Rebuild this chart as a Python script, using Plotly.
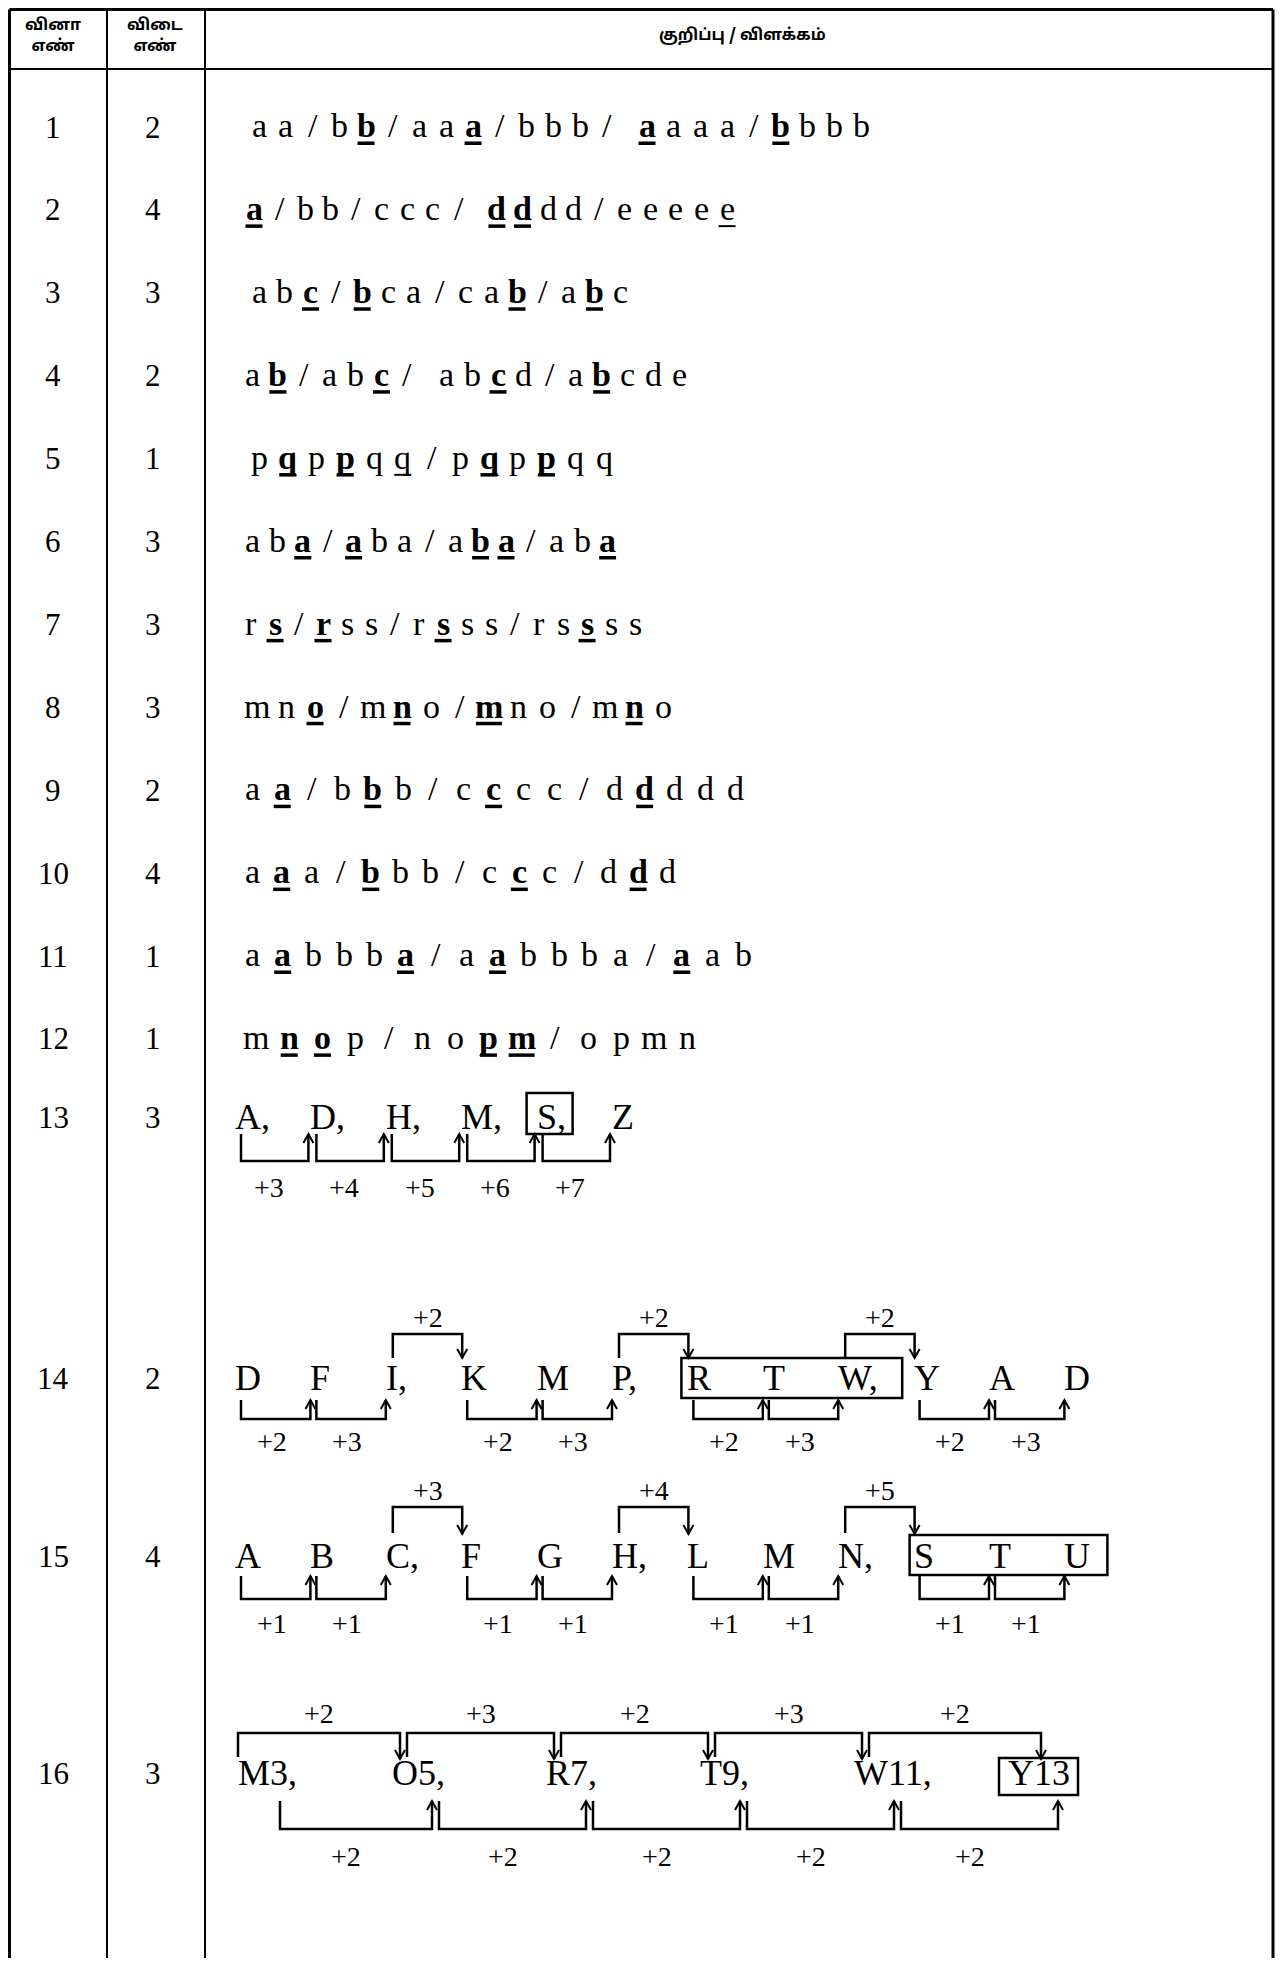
import plotly.graph_objects as go

# ---------------- data ----------------
QUESTION_NUMBERS = ["1", "2", "3", "4", "5", "6", "7", "8", "9", "10", "11", "12", "13", "14", "15", "16"]
ANSWER_NUMBERS = ["2", "4", "3", "2", "1", "3", "3", "3", "2", "4", "1", "1", "3", "2", "4", "3"]
HEADER_LABELS = ["வினா<br>எண்", "விடை<br>எண்", "குறிப்பு / விளக்கம்"]

# "*x" = bold + underlined, "~x" = underlined only, "_" = extra gap
PATTERN_ROWS = [
    "a a / b *b / a a *a / b b b / _ *a a a a / *b b b b",
    "*a / b b / c c c / _ *d *d d d / e e e e ~e",
    "a b *c / *b c a / c a *b / a *b c",
    "a *b / a b *c / _ a b *c d / a *b c d e",
    "p *q p *p q ~q / p *q p *p q q",
    "a b *a / *a b a / a *b *a / a b *a",
    "r *s / *r s s / r *s s s / r s *s s s",
    "m n *o / m *n o / *m n o / m *n o",
    "a *a / b *b b / c *c c c / d *d d d d",
    "a *a a / *b b b / c *c c / d *d d",
    "a *a b b b *a / a *a b b b a / *a a b",
    "m *n *o p / n o *p *m / o p m n",
]

SERIES_13 = ["A,", "D,", "H,", "M,", "S,", "Z"]
BOX_13 = [4, 4]
BOTTOM_13 = [[0, "+3"], [1, "+4"], [2, "+5"], [3, "+6"], [4, "+7"]]

SERIES_14 = ["D", "F", "I,", "K", "M", "P,", "R", "T", "W,", "Y", "A", "D"]
BOX_14 = [6, 8]
TOP_14 = [[2, "+2"], [5, "+2"], [8, "+2"]]
BOTTOM_14 = [[0, "+2"], [1, "+3"], [3, "+2"], [4, "+3"], [6, "+2"], [7, "+3"], [9, "+2"], [10, "+3"]]

SERIES_15 = ["A", "B", "C,", "F", "G", "H,", "L", "M", "N,", "S", "T", "U"]
BOX_15 = [9, 11]
TOP_15 = [[2, "+3"], [5, "+4"], [8, "+5"]]
BOTTOM_15 = [[0, "+1"], [1, "+1"], [3, "+1"], [4, "+1"], [6, "+1"], [7, "+1"], [9, "+1"], [10, "+1"]]

SERIES_16 = ["M3,", "O5,", "R7,", "T9,", "W11,", "Y13"]
BOX_16 = [5, 5]
TOP_16 = [[0, "+2"], [1, "+3"], [2, "+2"], [3, "+3"], [4, "+2"]]
BOTTOM_16 = [[0, "+2"], [1, "+2"], [2, "+2"], [3, "+2"], [4, "+2"]]

# ---------------- layout constants (page pixels) ----------------
PAGE_W, PAGE_H = 1283, 1970
BODY = 8                      # default body margin of the html page
FIG_W, FIG_H = PAGE_W - 2 * BODY, PAGE_H - 2 * BODY - 4
SERIF = "Liberation Serif, Times New Roman, serif"
TAMIL = "Noto Sans Tamil, Lohit Tamil, Latha, Noto Sans, sans-serif"
COL_LINES = [9.5, 107, 205, 1273]
TOP_Y = 9.5
HEADER_BOTTOM = 69
ROW1_C = 127.0
ROW_PITCH = 82.9
ROW_X0 = [259, 254, 259, 252, 259, 252, 251, 257, 252, 252, 252, 256]
ROW_STEP = [26.76, 25.57, 25.8, 25.9, 28.75, 25.4, 24.0, 29.0, 30.2, 29.7, 30.7, 33.2]
QNUM_X = 53
ANS_X = 153
FS_TXT = 34
FS_CAP = 36
FS_NUM = 31
FS_LBL = 28

annotations = []
shapes = []


def add_text(x, y_mid, s, size, anchor="center", bold=False, family=SERIF):
    annotations.append(dict(
        x=x, y=y_mid, xref="x", yref="y", showarrow=False,
        text=("<b>%s</b>" % s) if bold else s,
        xanchor=anchor, yanchor="middle",
        font=dict(family=family, size=size, color="black"),
    ))


def add_line(x0, y0, x1, y1, w):
    shapes.append(dict(type="line", xref="x", yref="y", x0=x0, y0=y0, x1=x1, y1=y1,
                       line=dict(color="black", width=w)))


def add_path(p, w=2.5):
    shapes.append(dict(type="path", xref="x", yref="y", path=p,
                       line=dict(color="black", width=w)))


def up_bracket(l, r, ytip, yh):
    add_path("M%.1f,%.1f L%.1f,%.1f L%.1f,%.1f L%.1f,%.1f" % (l, ytip, l, yh, r, yh, r, ytip))
    add_path("M%.1f,%.1f L%.1f,%.1f L%.1f,%.1f" % (r - 5, ytip + 9, r, ytip, r + 5, ytip + 9), 2)


def down_bracket(l, r, ystart, yh, ytip):
    add_path("M%.1f,%.1f L%.1f,%.1f L%.1f,%.1f L%.1f,%.1f" % (l, ystart, l, yh, r, yh, r, ytip))
    add_path("M%.1f,%.1f L%.1f,%.1f L%.1f,%.1f" % (r - 5, ytip - 9, r, ytip, r + 5, ytip - 9), 2)


def box(x0, y0, x1, y1):
    shapes.append(dict(type="rect", xref="x", yref="y", x0=x0, y0=y0, x1=x1, y1=y1,
                       line=dict(color="black", width=2.5), fillcolor="rgba(0,0,0,0)"))


def parse(row):
    out, pos = [], 0.0
    for t in row.split(" "):
        if t == "_":
            pos += 0.5
            continue
        style = "plain"
        if t.startswith("*"):
            style, t = "bold", t[1:]
        elif t.startswith("~"):
            style, t = "under", t[1:]
        out.append((pos, t, style))
        pos += 1
    return out


# ---------------- table frame ----------------
for i, x in enumerate(COL_LINES):
    add_line(x, TOP_Y, x, PAGE_H, 3 if i in (0, 3) else 2)
add_line(COL_LINES[0], TOP_Y, COL_LINES[3], TOP_Y, 3)
add_line(COL_LINES[0], HEADER_BOTTOM, COL_LINES[3], HEADER_BOTTOM, 2)

add_text(QNUM_X, 36, "<b>%s</b>" % HEADER_LABELS[0], 16, family=TAMIL)
add_text(ANS_X + 2, 36, "<b>%s</b>" % HEADER_LABELS[1], 16, family=TAMIL)
add_text(742, 36, "<b>%s</b>" % HEADER_LABELS[2], 16, family=TAMIL)

# ---------------- rows 1-12 ----------------
for r, row in enumerate(PATTERN_ROWS):
    c = ROW1_C + r * ROW_PITCH
    base = c + 0.33 * FS_NUM
    mid = base - 0.3375 * FS_TXT
    add_text(QNUM_X, c, QUESTION_NUMBERS[r], FS_NUM)
    add_text(ANS_X, c, ANSWER_NUMBERS[r], FS_NUM)
    for pos, ch, style in parse(row):
        x = ROW_X0[r] + pos * ROW_STEP[r]
        add_text(x, mid, ch, FS_TXT, bold=(style == "bold"))
        if style != "plain":
            hw = 13 if ch == "m" else 8.5
            add_line(x - hw, base + 6, x + hw, base + 6, 3.5 if style == "bold" else 2)

# ---------------- rows 13-15 (letter series) ----------------
SER_X0 = 233
SER_STEP = 75.4


def series_row(series, ymid, qi):
    add_text(QNUM_X, ymid, QUESTION_NUMBERS[qi], FS_NUM)
    add_text(ANS_X, ymid, ANSWER_NUMBERS[qi], FS_NUM)
    lefts = []
    for i, tok in enumerate(series):
        L = SER_X0 + i * SER_STEP
        lefts.append(L)
        add_text(L, ymid, tok, FS_CAP, anchor="left")
    return lefts


# row 13
Y13 = 1117
L13 = series_row(SERIES_13, Y13, 12)
for i, lbl in BOTTOM_13:
    l, r = L13[i] + 8, L13[i + 1] + 0
    up_bracket(l, r, Y13 + 17, Y13 + 44)
    add_text((l + r) / 2 - 6, Y13 + 70, lbl, FS_LBL)
box(L13[BOX_13[0]] - 8, Y13 - 24, L13[BOX_13[1]] + 38, Y13 + 17)

# row 14
Y14 = 1378
L14 = series_row(SERIES_14, Y14, 13)
for i, lbl in TOP_14:
    l, r = L14[i] + 9, L14[i + 1] + 3
    down_bracket(l, r, Y14 - 20, Y14 - 44, Y14 - 20)
    add_text((l + r) / 2, Y14 - 61, lbl, FS_LBL)
for i, lbl in BOTTOM_14:
    l, r = L14[i] + 8, L14[i + 1] + 2
    up_bracket(l, r, Y14 + 22, Y14 + 41)
    add_text((l + r) / 2 - 4, Y14 + 63, lbl, FS_LBL)
box(L14[BOX_14[0]] - 4, Y14 - 20, L14[BOX_14[1]] + 66, Y14 + 20)

# row 15
Y15 = 1556
L15 = series_row(SERIES_15, Y15, 14)
for i, lbl in TOP_15:
    l, r = L15[i] + 9, L15[i + 1] + 3
    down_bracket(l, r, Y15 - 23, Y15 - 49, Y15 - 22)
    add_text((l + r) / 2, Y15 - 66, lbl, FS_LBL)
for i, lbl in BOTTOM_15:
    l, r = L15[i] + 8, L15[i + 1] + 2
    up_bracket(l, r, Y15 + 20, Y15 + 43)
    add_text((l + r) / 2 - 4, Y15 + 67, lbl, FS_LBL)
box(L15[BOX_15[0]] - 2, Y15 - 21, L15[BOX_15[1]] + 45, Y15 + 19)

# row 16
Y16 = 1773
S16_X0 = 236
S16_STEP = 154
add_text(QNUM_X, Y16, QUESTION_NUMBERS[15], FS_NUM)
add_text(ANS_X, Y16, ANSWER_NUMBERS[15], FS_NUM)
L16 = []
for i, tok in enumerate(SERIES_16):
    L = S16_X0 + i * S16_STEP
    L16.append(L)
    add_text(L, Y16, tok, FS_CAP, anchor="left")
prev = None
for i, lbl in TOP_16:
    l = L16[i] + 2 if prev is None else prev + 7
    r = L16[i + 1] + (10 if i + 1 < len(SERIES_16) - 1 else 35)
    down_bracket(l, r, Y16 - 16, Y16 - 40, Y16 - 14)
    add_text((l + r) / 2, Y16 - 60, lbl, FS_LBL)
    prev = r
prev = None
for i, lbl in BOTTOM_16:
    l = L16[i] + 44 if prev is None else prev + 7
    r = L16[i + 1] + (42 if i + 1 < len(SERIES_16) - 1 else 52)
    up_bracket(l, r, Y16 + 28, Y16 + 56)
    add_text((l + r) / 2 - 10, Y16 + 83, lbl, FS_LBL)
    prev = r
box(L16[BOX_16[0]] - 7, Y16 - 15, L16[BOX_16[1]] + 72, Y16 + 22)

fig = go.Figure()
fig.update_layout(
    width=FIG_W, height=FIG_H,
    margin=dict(l=0, r=0, t=0, b=0),
    paper_bgcolor="white", plot_bgcolor="white",
    xaxis=dict(range=[BODY, BODY + FIG_W], visible=False, fixedrange=True),
    yaxis=dict(range=[BODY + FIG_H, BODY], visible=False, fixedrange=True),
    showlegend=False,
    annotations=annotations,
    shapes=shapes,
)
fig.write_html("out.html")
